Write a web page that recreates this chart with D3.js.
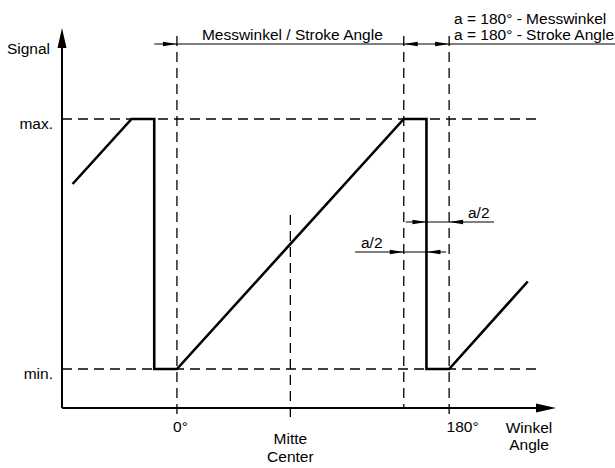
<!DOCTYPE html>
<html>
<head>
<meta charset="utf-8">
<script src="https://cdn.jsdelivr.net/npm/d3@7"></script>
<style>
  body { margin: 0; background: #fff; }
  svg { display: block; font-family: "Liberation Sans", Arial, sans-serif; }
</style>
</head>
<body>
<div id="chart"></div>
<script>
// signal curve (angle in degrees, level 0 = min, 1 = max)
const signalAngles = [-69, -30, -15, -15, 0, 150, 165, 165, 180, 232];
const signalLevels = [0.74, 1, 1, 0, 0, 1, 1, 0, 0, 0.35];

const levelTicks = [0, 1];
const levelLabels = ["min.", "max."];

const angleTicks = [0, 180];
const angleLabels = ["0°", "180°"];

const strokeAngle = 150;   // Messwinkel
const centerAngle = 75;    // Mitte
const halfA = 15;          // a/2

const w = 615;
const h = 468;
const fs = "15.5px";

const x = d3.scaleLinear().domain([-76, 250]).range([62, 555]);
const y = d3.scaleLinear().domain([0, 1]).range([369, 119]);
const axisY = 408;

const svg = d3.select("#chart").append("svg")
    .attr("width", w)
    .attr("height", h);

const dash = "10,6";

// horizontal guide lines at min / max
svg.selectAll(".hguide")
    .data(levelTicks)
    .enter()
    .append("line")
    .attr("class", "hguide")
    .attr("x1", x(-76))
    .attr("x2", 538)
    .attr("y1", d => y(d))
    .attr("y2", d => y(d))
    .attr("stroke", "#000")
    .attr("stroke-width", 1.3)
    .attr("stroke-dasharray", dash);

// vertical guide lines
const vGuides = [
    { a: 0, y1: 36, y2: 420 },
    { a: centerAngle, y1: 215, y2: 423 },
    { a: strokeAngle, y1: 36, y2: axisY },
    { a: 180, y1: 36, y2: 416 }
];
svg.selectAll(".vguide")
    .data(vGuides)
    .enter()
    .append("line")
    .attr("class", "vguide")
    .attr("x1", d => x(d.a))
    .attr("x2", d => x(d.a))
    .attr("y1", d => d.y1)
    .attr("y2", d => d.y2)
    .attr("stroke", "#000")
    .attr("stroke-width", 1.3)
    .attr("stroke-dasharray", dash);

// axes lines with arrow heads
svg.append("line")
    .attr("x1", x(-76)).attr("x2", x(-76))
    .attr("y1", axisY).attr("y2", 46)
    .attr("stroke", "#000").attr("stroke-width", 2);
svg.append("line")
    .attr("x1", x(-76)).attr("x2", 540)
    .attr("y1", axisY).attr("y2", axisY)
    .attr("stroke", "#000").attr("stroke-width", 2);

const arrow = (tx, ty, dir, len, half) => {
    let p;
    if (dir === "right") p = [[tx, ty], [tx - len, ty - half], [tx - len, ty + half]];
    if (dir === "left") p = [[tx, ty], [tx + len, ty - half], [tx + len, ty + half]];
    if (dir === "up") p = [[tx, ty], [tx - half, ty + len], [tx + half, ty + len]];
    svg.append("path")
        .attr("d", d3.line()(p) + "Z")
        .attr("fill", "#000");
};

arrow(x(-76), 28, "up", 20, 4.5);
arrow(556, axisY, "right", 20, 4.5);

// signal
const line = d3.line()
    .x((d, i) => x(signalAngles[i]))
    .y((d, i) => y(signalLevels[i]));

svg.append("path")
    .datum(signalAngles)
    .attr("d", line)
    .attr("fill", "none")
    .attr("stroke", "#000")
    .attr("stroke-width", 2.6)
    .attr("stroke-linejoin", "miter");

// y axis labels
const yAxis = d3.axisLeft(y)
    .tickValues(levelTicks)
    .tickSize(0)
    .tickPadding(9)
    .tickFormat((d, i) => levelLabels[i]);

svg.append("g")
    .attr("transform", "translate(" + x(-76) + ",0)")
    .call(yAxis)
    .call(g => g.select(".domain").remove())
    .selectAll("text")
    .attr("dy", "0.6em")
    .style("font-size", fs)
    .style("font-family", "'Liberation Sans', Arial, sans-serif")
    .attr("fill", "#000");

// x axis labels
const xAxis = d3.axisBottom(x)
    .tickValues(angleTicks)
    .tickSize(0)
    .tickPadding(13)
    .tickFormat((d, i) => angleLabels[i]);

const labelShift = [3, 13];
svg.append("g")
    .attr("transform", "translate(0," + axisY + ")")
    .call(xAxis)
    .call(g => g.select(".domain").remove())
    .selectAll("text")
    .attr("dx", (d, i) => labelShift[i])
    .style("font-size", fs)
    .style("font-family", "'Liberation Sans', Arial, sans-serif")
    .attr("fill", "#000");

const text = (tx, ty, str, anchor) => {
    svg.append("text")
        .attr("x", tx)
        .attr("y", ty)
        .attr("text-anchor", anchor || "start")
        .style("font-size", fs)
        .attr("fill", "#000")
        .text(str);
};

text(50, 54, "Signal", "end");
text(x(centerAngle), 444, "Mitte", "middle");
text(x(centerAngle), 462, "Center", "middle");
text(529, 433, "Winkel", "middle");
text(529, 450, "Angle", "middle");

// top dimension: Messwinkel and a
const dimY = 44;
svg.append("line")
    .attr("x1", x(-15)).attr("x2", w)
    .attr("y1", dimY).attr("y2", dimY)
    .attr("stroke", "#000").attr("stroke-width", 1.2);
arrow(x(0), dimY, "right", 14, 2.2);
arrow(x(strokeAngle), dimY, "left", 14, 2.2);
arrow(x(180), dimY, "right", 14, 2.2);

text(x(centerAngle) + 2, 40, "Messwinkel / Stroke Angle", "middle");
text(454, 24, "a = 180° - Messwinkel");
text(454, 40, "a = 180° - Stroke Angle");

// a/2 dimensions
const dimUp = 222;
svg.append("line")
    .attr("x1", x(strokeAngle) + 2).attr("x2", 494)
    .attr("y1", dimUp).attr("y2", dimUp)
    .attr("stroke", "#000").attr("stroke-width", 1.2);
arrow(x(strokeAngle + halfA), dimUp, "right", 14, 2.2);
arrow(x(180), dimUp, "left", 14, 2.2);
text(468, 218, "a/2");

const dimLow = 252;
svg.append("line")
    .attr("x1", 355).attr("x2", x(180) - 3)
    .attr("y1", dimLow).attr("y2", dimLow)
    .attr("stroke", "#000").attr("stroke-width", 1.2);
arrow(x(strokeAngle), dimLow, "right", 14, 2.2);
arrow(x(strokeAngle + halfA), dimLow, "left", 14, 2.2);
text(361, 248, "a/2");
</script>
</body>
</html>
